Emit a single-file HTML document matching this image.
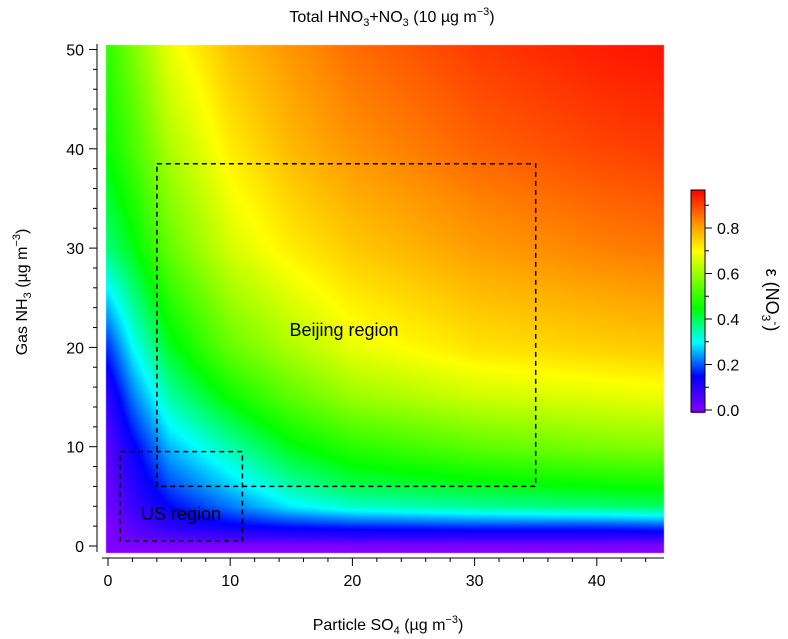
<!DOCTYPE html>
<html><head><meta charset="utf-8">
<style>
body{margin:0;background:#fff;width:788px;height:639px;overflow:hidden;font-family:"Liberation Sans",Arial,sans-serif}
#wrap{position:relative;width:788px;height:639px}
canvas{position:absolute;left:0;top:0}
svg{position:absolute;left:0;top:0}
text{font-family:"Liberation Sans",Arial,sans-serif;fill:#000}
</style></head><body>
<div id="wrap">
<canvas id="hm" width="788" height="639"></canvas>
<svg id="ov" width="788" height="639"></svg>
</div>
<script>
// data
const so4Grid=[0,2,5,10,15,20,30,40,45];
const nh3Grid=[0,1,2,4,6,10,15,20,30,40,50];
const epsRows=[
[0,0,0,0,0,0,0,0,0],
[0,0.03,0.06,0.08,0.09,0.1,0.1,0.1,0.1],
[0,0.05,0.1,0.14,0.16,0.17,0.18,0.18,0.19],
[0.02,0.08,0.15,0.22,0.29,0.33,0.36,0.38,0.39],
[0.03,0.1,0.19,0.27,0.35,0.4,0.43,0.45,0.46],
[0.05,0.14,0.26,0.35,0.44,0.49,0.54,0.57,0.58],
[0.1,0.22,0.35,0.46,0.54,0.6,0.65,0.67,0.68],
[0.18,0.3,0.43,0.55,0.62,0.68,0.73,0.75,0.76],
[0.38,0.44,0.55,0.66,0.72,0.76,0.81,0.84,0.85],
[0.46,0.52,0.62,0.72,0.78,0.82,0.87,0.9,0.91],
[0.5,0.57,0.68,0.77,0.82,0.86,0.91,0.94,0.95]];
const xTicks=[0,10,20,30,40];
const yTicks=[0,10,20,30,40,50];
const cTicks=[0,0.2,0.4,0.6,0.8];
const usBox=[1,11,0.5,9.5];
const bjBox=[4,35,6,38.5];

const X=v=>108+v*12.22, Y=v=>546-v*9.93;
const stops=[[0,[128,0,255]],[0.15,[0,0,255]],[0.3,[0,255,255]],[0.45,[0,255,0]],[0.7,[255,255,0]],[0.83,[255,140,0]],[0.97,[255,0,0]]];
function cmap(t){t=Math.max(0,Math.min(0.97,t));for(let i=1;i<stops.length;i++){if(t<=stops[i][0]){const a=stops[i-1],b=stops[i],f=(t-a[0])/(b[0]-a[0]);return a[1].map((c,k)=>Math.round(c+(b[1][k]-c)*f));}}return stops[stops.length-1][1];}
function idx(arr,v){for(let i=0;i<arr.length-1;i++)if(v<=arr[i+1])return [i,(v-arr[i])/(arr[i+1]-arr[i])];return [arr.length-2,1];}
function val(s,n){const [i,fx]=idx(so4Grid,s),[j,fy]=idx(nh3Grid,n);
const a=epsRows[j][i],b=epsRows[j][i+1],c=epsRows[j+1][i],d=epsRows[j+1][i+1];
return (a*(1-fx)+b*fx)*(1-fy)+(c*(1-fx)+d*fx)*fy;}
const cv=document.getElementById('hm'),ctx=cv.getContext('2d');
const x0=106,x1=664,y0=45,y1=553;
const img=ctx.createImageData(x1-x0,y1-y0);
for(let py=y0;py<y1;py++)for(let px=x0;px<x1;px++){
 let s=(px-108)/12.22,n=(546-py)/9.93;s=Math.max(0,Math.min(45,s));n=Math.max(0,Math.min(50,n));
 const c=cmap(val(s,n));const o=((py-y0)*(x1-x0)+(px-x0))*4;
 img.data[o]=c[0];img.data[o+1]=c[1];img.data[o+2]=c[2];img.data[o+3]=255;}
ctx.putImageData(img,x0,y0);
// colorbar
for(let py=190;py<=412;py++){const v=(410-py)/227.5;const c=cmap(v);ctx.fillStyle=`rgb(${c})`;ctx.fillRect(691,py,14,1);}

const svg=document.getElementById('ov');const NS='http://www.w3.org/2000/svg';
function el(t,a,txt){const e=document.createElementNS(NS,t);for(const k in a)e.setAttribute(k,a[k]);if(txt!==undefined)e.textContent=txt;svg.appendChild(e);return e;}
let e;
e=el('line',{x1:97,y1:44,x2:97,y2:552,stroke:'#000','stroke-width':1});


e=el('line',{x1:102,y1:558,x2:664,y2:558,stroke:'#000','stroke-width':1});


for(let v=0;v<=45;v+=2){const big=v%10===0;el('line',{x1:X(v),y1:558,x2:X(v),y2:big?566:562,stroke:'#000'});}
xTicks.forEach(v=>{e=el('text',{x:X(v),y:586,'text-anchor':'middle','font-size':16},v);

});
for(let v=0;v<=50;v+=2){const big=v%10===0;el('line',{x1:97,y1:Y(v),x2:big?89:93,y2:Y(v),stroke:'#000'});}
yTicks.forEach(v=>{e=el('text',{x:84,y:Y(v)+6,'text-anchor':'end','font-size':16},v);

});
function box(b,name){e=el('rect',{x:X(b[0]),y:Y(b[3]),width:X(b[1])-X(b[0]),height:Y(b[2])-Y(b[3]),fill:'none',stroke:'#000','stroke-width':1.5,'stroke-dasharray':'5,4'});

}
box(bjBox,'beijing-region-box');box(usBox,'us-region-box');
e=el('text',{x:344,y:336,'text-anchor':'middle','font-size':18},'Beijing region');


e=el('text',{x:181,y:520,'text-anchor':'middle','font-size':18},'US region');


e=el('rect',{x:691,y:190,width:14,height:222,fill:'none',stroke:'#000'});


for(let k=0;k<=9;k++){const v=k/10;el('line',{x1:705,y1:410-v*227.5,x2:k%2===0?712:709,y2:410-v*227.5,stroke:'#000'});}
cTicks.forEach(v=>{e=el('text',{x:717,y:410-v*227.5+6,'font-size':16},v.toFixed(1));

});
</script>
<svg width="788" height="639" style="position:absolute;left:0;top:0;pointer-events:none">
<text x="392" y="22" text-anchor="middle" font-size="16">Total HNO<tspan font-size="11" dy="4">3</tspan><tspan dy="-4">+NO</tspan><tspan font-size="11" dy="4">3</tspan><tspan dy="-4"> (10 µg m</tspan><tspan font-size="11" dy="-7">−3</tspan><tspan dy="7">)</tspan></text>
<text x="388" y="630" text-anchor="middle" font-size="16">Particle SO<tspan font-size="11" dy="4">4</tspan><tspan dy="-4"> (µg m</tspan><tspan font-size="11" dy="-7">−3</tspan><tspan dy="7">)</tspan></text>
<text transform="translate(27,292) rotate(-90)" text-anchor="middle" font-size="16">Gas NH<tspan font-size="11" dy="4">3</tspan><tspan dy="-4"> (µg m</tspan><tspan font-size="11" dy="-7">−3</tspan><tspan dy="7">)</tspan></text>
<text transform="translate(766,300) rotate(90)" text-anchor="middle" font-size="18">ε (NO<tspan font-size="12" dy="4">3</tspan><tspan font-size="12" dy="-10">-</tspan><tspan dy="6">)</tspan></text>
</svg>
</body></html>
